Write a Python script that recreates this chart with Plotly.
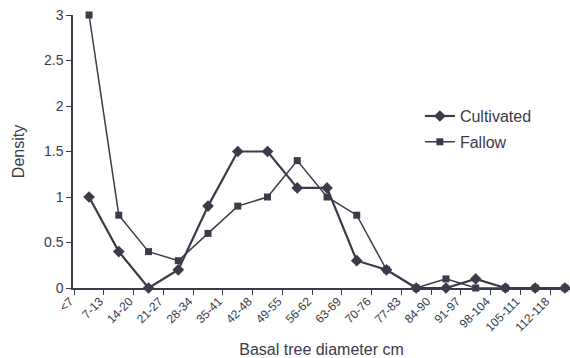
import plotly.graph_objects as go

categories = ["<7", "7-13", "14-20", "21-27", "28-34", "35-41", "42-48", "49-55",
              "56-62", "63-69", "70-76", "77-83", "84-90", "91-97", "98-104",
              "105-111", "112-118"]
cultivated = [1.0, 0.4, 0.0, 0.2, 0.9, 1.5, 1.5, 1.1, 1.1, 0.3, 0.2, 0.0, 0.0, 0.1, 0.0, 0.0, 0.0]
fallow = [3.0, 0.8, 0.4, 0.3, 0.6, 0.9, 1.0, 1.4, 1.0, 0.8, 0.2, 0.0, 0.1, 0.0, 0.0, 0.0, 0.0]
y_ticks = [0, 0.5, 1, 1.5, 2, 2.5, 3]
y_labels = ["0", "0.5", "1", "1.5", "2", "2.5", "3"]

ink = "#3b3b4a"
font = "Liberation Sans, Arial, sans-serif"

fig = go.Figure()
fig.add_trace(go.Scatter(x=categories, y=cultivated, name="Cultivated", mode="lines+markers",
                         line=dict(color=ink, width=2.2),
                         marker=dict(symbol="diamond", size=9, color=ink),
                         cliponaxis=False, legendgroup="a"))
fig.add_trace(go.Scatter(x=categories, y=fallow, name="Fallow", mode="lines+markers",
                         line=dict(color=ink, width=1.5),
                         marker=dict(symbol="square", size=7, color=ink),
                         cliponaxis=False, legendgroup="b"))

fig.update_layout(
    width=570, height=358,
    margin=dict(l=73, r=0, t=15, b=70),
    paper_bgcolor="white", plot_bgcolor="white",
    font=dict(family=font, color=ink, size=13),
    showlegend=True,
    legend=dict(x=0.698, y=0.692, xanchor="left", yanchor="top",
                bgcolor="rgba(0,0,0,0)", font=dict(size=16, color=ink),
                tracegroupgap=2, traceorder="grouped"),
)
fig.update_xaxes(
    type="category", range=[-0.54, 16.17], automargin=False,
    showgrid=False, showline=True, linecolor=ink, linewidth=1.5,
    ticks="outside", tickson="boundaries", ticklen=5, tickcolor=ink,
    tickangle=-45, tickfont=dict(size=12, color=ink), ticklabelshift=-19,
    title=dict(text="Basal tree diameter cm", font=dict(size=16, color=ink), standoff=10),
)
fig.update_yaxes(
    range=[0, 3.0], tickvals=y_ticks, ticktext=y_labels, automargin=False,
    showgrid=False, showline=True, linecolor=ink, linewidth=1.5,
    ticks="outside", ticklen=5, tickcolor=ink, zeroline=False,
    tickfont=dict(size=14, color=ink),
    title=dict(text="Density", font=dict(size=16, color=ink), standoff=15),
)
fig.write_html("out.html", config={"displayModeBar": False},
               post_script="document.body.style.margin='0';")
